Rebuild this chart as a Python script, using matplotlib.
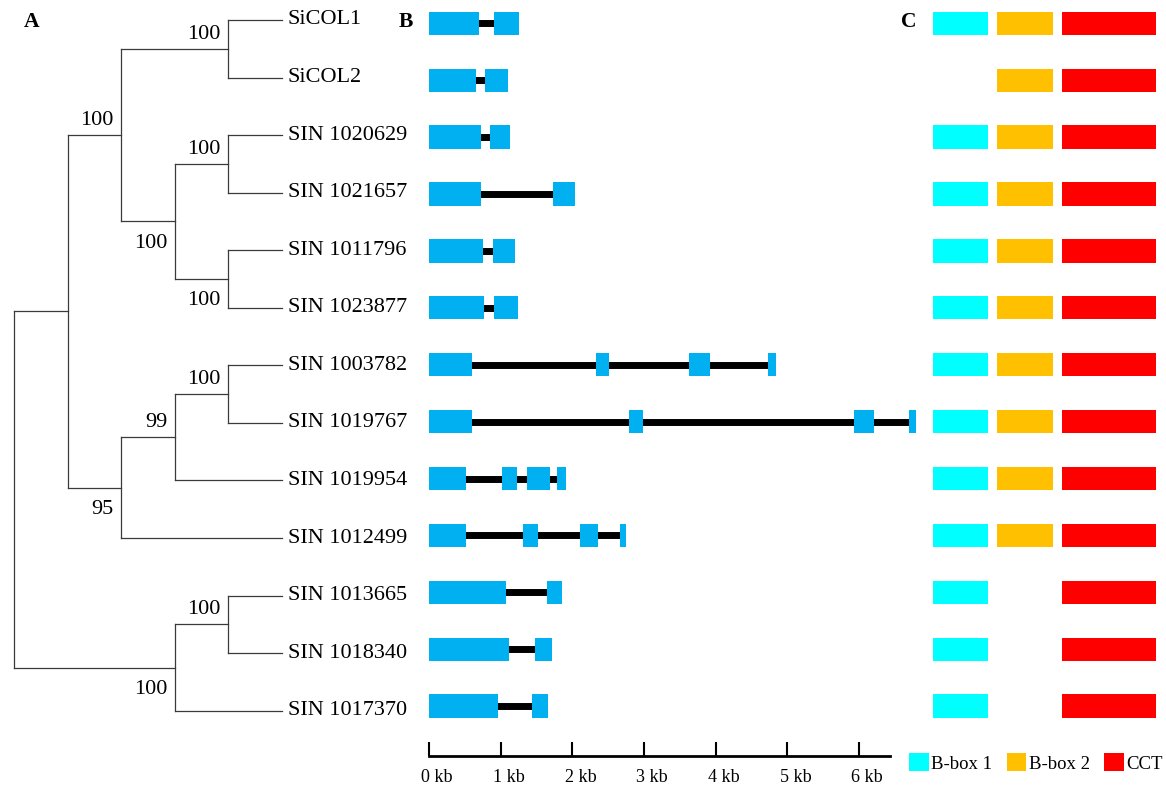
import matplotlib
matplotlib.use('Agg')
import matplotlib.pyplot as plt
from matplotlib.patches import Patch
from matplotlib.transforms import ScaledTranslation

plt.rcParams['font.family'] = 'Liberation Serif'

# Tree: (child_a, child_b, bootstrap); leaves are plain names
tree = (
    (
        (('SiCOL1', 'SiCOL2', 100),
         (('SIN 1020629', 'SIN 1021657', 100), ('SIN 1011796', 'SIN 1023877', 100), 100),
         100),
        ((('SIN 1003782', 'SIN 1019767', 100), 'SIN 1019954', 99), 'SIN 1012499', 95),
        None),
    (('SIN 1013665', 'SIN 1018340', 100), 'SIN 1017370', 100),
    None)

# Exon positions (kb) per gene, same order as tree leaves
exons = [
    [(0, 0.70), (0.91, 1.26)],
    [(0, 0.65), (0.78, 1.10)],
    [(0, 0.72), (0.85, 1.13)],
    [(0, 0.72), (1.73, 2.04)],
    [(0, 0.76), (0.89, 1.20)],
    [(0, 0.77), (0.90, 1.24)],
    [(0, 0.60), (2.33, 2.51), (3.62, 3.92), (4.73, 4.84)],
    [(0, 0.60), (2.79, 2.99), (5.93, 6.21), (6.69, 6.79)],
    [(0, 0.52), (1.02, 1.23), (1.37, 1.69), (1.79, 1.91)],
    [(0, 0.52), (1.31, 1.52), (2.11, 2.36), (2.66, 2.75)],
    [(0, 1.07), (1.64, 1.85)],
    [(0, 1.12), (1.48, 1.71)],
    [(0, 0.96), (1.44, 1.66)],
]

# Conserved domains present in each protein
domain_names = ['B-box 1', 'B-box 2', 'CCT']
domain_colors = ['#00FFFF', '#FFC000', '#FF0000']
bbox1 = [1, 0, 1, 1, 1, 1, 1, 1, 1, 1, 1, 1, 1]
bbox2 = [1, 1, 1, 1, 1, 1, 1, 1, 1, 1, 0, 0, 0]
cct = [1, 1, 1, 1, 1, 1, 1, 1, 1, 1, 1, 1, 1]
scale_ticks = [0, 1, 2, 3, 4, 5, 6]

W, H = 1166, 789
fig = plt.figure(figsize=(W / 100, H / 100), dpi=100)
n = len(exons)


def height(node):
    if isinstance(node, str):
        return 0
    return max(height(node[0]), height(node[1])) + 1


depth = height(tree)
leaf_counter = [0]

# ---- A: tree ----
axA = fig.add_axes([0, 0, 420 / W, 1])
axA.set_xlim(-14.3 / 53.5, (420 - 14.3) / 53.5)
axA.set_ylim((H - 20) / 57.56, -20 / 57.56)
axA.axis('off')
lc = '#3a3a3a'


def draw(node):
    if isinstance(node, str):
        y = leaf_counter[0]
        leaf_counter[0] += 1
        axA.annotate(node, (depth, y), xytext=(6, 0), textcoords='offset pixels',
                     ha='left', va='center', fontsize=16)
        return depth, y
    x = depth - height(node)
    pts = [draw(node[0]), draw(node[1])]
    axA.plot([x, x], [pts[0][1], pts[1][1]], color=lc, lw=0.9)
    for k, (cx, cy) in enumerate(pts):
        axA.plot([x, cx], [cy, cy], color=lc, lw=0.9)
        child = node[k]
        if not isinstance(child, str) and child[2] is not None:
            dy = 14.7 if k == 0 else -21.8
            axA.annotate(str(child[2]), (cx, cy), xytext=(-7.5, dy),
                         textcoords='offset pixels', ha='right', va='center', fontsize=16)
    return x, (pts[0][1] + pts[1][1]) / 2


draw(tree)

# ---- B: gene structure ----
px_kb = 71.7
axB = fig.add_axes([429 / W, 0, (925 - 429) / W, 1])
axB.set_xlim(0, (925 - 429) / px_kb)
ylo, yhi = (H - 23.3) / 56.9, -23.3 / 56.9
axB.set_ylim(ylo, yhi)
eh = 23.3 / 56.9
for i, ex in enumerate(exons):
    axB.hlines(i, ex[0][0], ex[-1][1] - 0.02, color='black', lw=5.0, zorder=1, capstyle='butt')
    axB.broken_barh([(s, e - s) for s, e in ex], (i - eh / 2, eh),
                    facecolor='#00B0F0', edgecolor='none', zorder=2)

for side in ['top', 'left', 'right']:
    axB.spines[side].set_visible(False)
axB.spines['bottom'].set_position(('data', (756 - 23.3) / 56.9))
axB.spines['bottom'].set_bounds(0, (890 - 429) / px_kb)
axB.spines['bottom'].set_linewidth(2.0)
axB.set_yticks([])
axB.set_xticks(scale_ticks)
axB.set_xticklabels([f'{t} kb' for t in scale_ticks], fontsize=13)
axB.tick_params(axis='x', direction='in', length=10, width=1.5, pad=9)
for lab in axB.get_xticklabels():
    lab.set_transform(lab.get_transform() + ScaledTranslation(0.08, 0, fig.dpi_scale_trans))
axB.patch.set_visible(False)

# ---- C: domains ----
axC = fig.add_axes([933 / W, 0, (1155.5 - 933) / W, 1])
widths = [1.0, 1.0, 1.7]
gap = 0.17
axC.set_xlim(0, sum(widths) + 2 * gap)
axC.set_ylim(ylo, yhi)
axC.axis('off')
starts = [0, widths[0] + gap, widths[0] + widths[1] + 2 * gap]
for j, present in enumerate([bbox1, bbox2, cct]):
    for i, p in enumerate(present):
        if p:
            axC.broken_barh([(starts[j], widths[j])], (i - eh / 2, eh),
                            facecolor=domain_colors[j], edgecolor='none')

# panel letters
for lab, x in zip(['A', 'B', 'C'], [31.7, 406, 909]):
    fig.text(x / W, 1 - 22 / H, lab, ha='center', va='center', fontsize=15.5, fontweight='bold')

handles = [Patch(facecolor=c, edgecolor='none', label=nm) for nm, c in zip(domain_names, domain_colors)]
fig.legend(handles=handles, loc='center', bbox_to_anchor=(1036 / W, 1 - 763 / H), ncol=3,
           frameon=False, fontsize=13.5, handlelength=1.05, handleheight=1.05,
           handletextpad=0.15, columnspacing=0.75, borderpad=0, borderaxespad=0)

fig.savefig('out.png', dpi=100)
